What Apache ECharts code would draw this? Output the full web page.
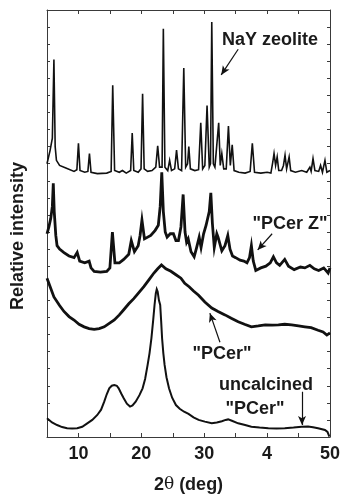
<!DOCTYPE html>
<html>
<head>
<meta charset="utf-8">
<script src="https://cdn.jsdelivr.net/npm/echarts@6/dist/echarts.min.js"></script>
<style>
  html, body { margin: 0; padding: 0; background: #fff; }
  #main { width: 340px; height: 496px; }
</style>
</head>
<body>
<div id="main"></div>
<script>
// 2theta (deg), stacked relative intensity (arbitrary units, offset per pattern)
const nayZeolite = [
  [5.0, 16.0], [5.5, 16.8], [5.85, 17.5], [6.1, 22.1], [6.3, 17.0], [6.5, 16.2], [7.0, 15.9],
  [8.0, 15.75], [9.3, 15.55], [9.75, 15.65], [10.0, 17.2], [10.25, 15.6], [11.0, 15.5],
  [11.5, 15.55], [11.75, 16.6], [12.0, 15.5], [13.0, 15.42], [14.5, 15.45], [15.2, 15.55],
  [15.45, 20.6], [15.75, 15.6], [16.5, 15.5], [17.0, 15.6], [17.6, 15.45], [18.3, 15.6],
  [18.55, 17.8], [18.8, 15.6], [19.5, 15.5], [19.95, 15.7], [20.2, 20.1], [20.45, 15.7],
  [21.0, 15.55], [21.7, 15.6], [22.3, 15.8], [22.6, 17.05], [22.9, 15.8], [23.3, 15.8],
  [23.5, 23.9], [23.75, 15.8], [24.2, 15.6], [24.5, 16.2], [24.8, 15.6], [25.3, 15.7],
  [25.6, 16.8], [25.9, 15.7], [26.4, 15.6], [26.75, 21.6], [27.05, 15.8], [27.35, 16.0],
  [27.55, 17.0], [27.8, 15.7], [28.5, 15.6], [29.1, 15.65], [29.45, 18.4], [29.75, 15.7],
  [30.1, 15.9], [30.45, 19.4], [30.8, 15.8], [31.0, 16.0], [31.2, 24.3], [31.45, 16.0],
  [31.7, 15.8], [32.0, 15.9], [32.3, 18.4], [32.55, 15.9], [32.8, 16.6], [33.1, 15.7],
  [33.5, 15.7], [33.85, 18.2], [34.15, 15.9], [34.45, 17.1], [34.75, 15.6], [35.5, 15.5],
  [36.5, 15.45], [37.3, 15.55], [37.65, 17.2], [38.0, 15.5], [39.0, 15.45], [40.0, 15.5],
  [40.6, 15.45], [40.9, 16.1], [41.1, 16.6], [41.35, 15.9], [41.6, 16.4], [41.85, 15.6],
  [42.3, 15.6], [42.6, 15.9], [42.85, 16.5], [43.1, 15.7], [43.5, 16.4], [43.75, 15.6],
  [44.5, 15.5], [45.5, 15.6], [46.3, 15.5], [46.8, 15.8], [47.0, 15.55], [47.3, 16.3],
  [47.6, 15.6], [48.2, 15.55], [48.5, 15.9], [48.8, 15.5], [49.2, 16.2], [49.5, 15.5], [50.0, 15.6]
];

const pcerZ = [
  [5.0, 11.9], [5.3, 12.3], [5.6, 12.8], [5.85, 13.5], [6.0, 14.85], [6.15, 13.2], [6.4, 11.8],
  [6.6, 11.2], [7.0, 11.0], [7.7, 10.8], [8.5, 10.6], [9.3, 10.5], [9.8, 10.8], [10.2, 10.3],
  [11.0, 10.2], [11.7, 10.3], [12.0, 9.9], [12.5, 9.7], [13.5, 9.65], [14.5, 9.7], [15.0, 9.9],
  [15.4, 12.0], [15.8, 10.2], [16.5, 10.2], [17.2, 10.4], [18.0, 10.7], [18.4, 11.5],
  [18.9, 10.85], [19.5, 11.2], [19.8, 11.8], [20.1, 12.7], [20.5, 11.6], [20.8, 11.5],
  [21.5, 11.8], [22.2, 12.1], [22.7, 12.4], [23.0, 13.5], [23.25, 15.5], [23.5, 13.2],
  [23.8, 12.0], [24.1, 11.7], [24.6, 11.9], [25.1, 11.9], [25.5, 11.5], [25.9, 11.5],
  [26.3, 12.3], [26.65, 14.2], [26.95, 12.0], [27.2, 11.4], [27.45, 11.6], [27.9, 10.85],
  [28.4, 10.55], [28.8, 11.1], [29.2, 11.7], [29.5, 11.1], [29.9, 11.9], [30.3, 12.4],
  [30.8, 13.2], [31.05, 14.3], [31.3, 12.5], [31.6, 11.1], [32.0, 11.9], [32.2, 11.7],
  [32.8, 10.9], [33.3, 11.2], [33.75, 11.8], [34.1, 11.0], [34.5, 10.6], [35.0, 10.5],
  [35.7, 10.35], [36.3, 10.3], [36.8, 10.2], [37.2, 10.5], [37.5, 11.2], [37.8, 10.3],
  [38.2, 9.75], [39.0, 9.9], [39.8, 10.0], [40.5, 10.2], [41.0, 10.55], [41.5, 10.2],
  [42.0, 10.05], [42.8, 10.4], [43.4, 10.0], [44.3, 9.8], [45.3, 9.95], [46.0, 9.9],
  [46.8, 10.05], [47.5, 9.85], [48.2, 9.75], [49.0, 9.9], [49.7, 9.6], [50.0, 9.9]
];

const pcer = [
  [5.0, 9.3], [5.5, 8.8], [6.1, 8.2], [7.0, 7.7], [7.7, 7.35], [8.5, 7.05], [9.3, 6.85],
  [10.1, 6.6], [10.9, 6.45], [11.7, 6.35], [12.5, 6.3], [13.3, 6.35], [14.1, 6.45],
  [14.9, 6.65], [15.7, 6.85], [16.5, 7.15], [17.2, 7.45], [18.0, 7.8], [18.8, 8.1],
  [19.6, 8.45], [20.4, 8.8], [21.2, 9.2], [22.0, 9.6], [22.6, 9.85], [23.2, 10.07],
  [23.9, 9.85], [24.7, 9.7], [25.5, 9.5], [26.3, 9.3], [26.9, 9.0], [27.6, 8.8], [28.3, 8.55],
  [29.1, 8.3], [30.1, 7.9], [31.2, 7.55], [32.2, 7.35], [33.3, 7.15], [34.3, 6.95],
  [35.4, 6.75], [36.4, 6.6], [37.5, 6.45], [38.6, 6.5], [39.7, 6.56], [40.8, 6.55],
  [41.8, 6.56], [42.8, 6.6], [43.9, 6.56], [45.0, 6.5], [46.0, 6.45], [47.0, 6.4],
  [48.1, 6.25], [48.9, 6.15], [49.5, 5.97], [50.0, 6.1]
];

const uncalcinedPcer = [
  [5.0, 1.1], [5.8, 0.85], [6.6, 0.7], [7.4, 0.58], [8.2, 0.51], [9.0, 0.5], [9.8, 0.51],
  [10.6, 0.6], [11.4, 0.8], [12.2, 1.0], [13.0, 1.29], [13.6, 1.6], [14.1, 2.07], [14.5, 2.5],
  [14.9, 2.85], [15.3, 3.0], [15.7, 3.04], [16.1, 3.0], [16.4, 2.85], [16.8, 2.55],
  [17.2, 2.27], [17.7, 1.95], [18.2, 1.78], [18.6, 1.85], [19.1, 2.07], [19.7, 2.45],
  [20.2, 2.85], [20.6, 3.4], [21.0, 4.22], [21.3, 4.9], [21.6, 5.78], [21.9, 6.9],
  [22.1, 7.73], [22.3, 8.4], [22.45, 8.65], [22.6, 8.5], [22.8, 8.0], [23.0, 7.73],
  [23.15, 6.8], [23.3, 5.78], [23.5, 4.9], [23.7, 4.22], [24.0, 3.5], [24.4, 2.85],
  [24.9, 2.3], [25.5, 1.87], [26.1, 1.65], [26.8, 1.48], [27.5, 1.35], [28.3, 1.15],
  [29.1, 1.0], [30.1, 0.9], [31.2, 0.8], [32.0, 0.85], [32.8, 0.92], [33.4, 1.0],
  [33.8, 1.03], [34.4, 0.95], [35.4, 0.8], [36.5, 0.7], [37.5, 0.6], [38.8, 0.55],
  [40.2, 0.51], [41.5, 0.5], [42.8, 0.51], [44.2, 0.55], [45.5, 0.6], [46.5, 0.62],
  [47.3, 0.57], [48.1, 0.51], [49.2, 0.41], [49.6, 0.3], [49.9, 0.02]
];

// arrows from label to curve: [from, to] in data coords
const arrows = [
  [[35.4, 22.7], [32.7, 21.2]],
  [[40.8, 11.9], [38.5, 10.95]],
  [[32.5, 5.55], [30.9, 7.25]],
  [[45.55, 2.65], [45.55, 0.7]]
];

const xTickLabels = { 10: '10', 20: '20', 30: '30', 40: '4', 50: '50' };

const font = '"Liberation Sans", Arial, sans-serif';
const ink = '#111';
const textInk = '#1a1a1a';
const axisColor = '#3a3a3a';

const chart = echarts.init(document.getElementById('main'));

const axisBase = {
  type: 'value',
  axisLine: { show: true, onZero: false, lineStyle: { color: axisColor, width: 1 } },
  axisTick: { show: true, inside: true, length: 4, lineStyle: { color: axisColor } },
  splitLine: { show: false }
};

const line = (name, data, width) => ({
  name,
  type: 'line',
  data,
  showSymbol: false,
  silent: true,
  lineStyle: { color: ink, width, join: 'miter' },
  z: 3
});

const option = {
  animation: false,
  backgroundColor: '#fff',
  grid: { left: 47, right: 10, top: 10, bottom: 59, containLabel: false, outerBoundsMode: 'none' },
  xAxis: [
    {
      ...axisBase,
      position: 'bottom',
      min: 5, max: 50, interval: 5,
      axisLabel: {
        margin: 8,
        color: textInk,
        fontFamily: font,
        fontWeight: 'bold',
        fontSize: 18,
        formatter: (v) => xTickLabels[v] || ''
      },
      name: '2{t|θ} (deg)',
      nameLocation: 'middle',
      nameGap: 39,
      nameTextStyle: {
        color: textInk, fontFamily: font, fontWeight: 'bold', fontSize: 18,
        rich: { t: { fontFamily: '"DejaVu Serif", serif', fontWeight: 'normal', fontSize: 17, color: textInk } }
      }
    },
    {
      ...axisBase,
      position: 'top',
      min: 5, max: 50, interval: 5,
      axisLabel: { show: false }
    }
  ],
  yAxis: [
    {
      ...axisBase,
      position: 'left',
      min: 0, max: 25, interval: 1,
      axisTick: { ...axisBase.axisTick, length: 3 },
      axisLabel: { show: false }
    },
    {
      ...axisBase,
      position: 'right',
      min: 0, max: 25, interval: 1,
      axisTick: { ...axisBase.axisTick, length: 3 },
      axisLabel: { show: false }
    }
  ],
  series: [
    {
      ...line('NaY zeolite', nayZeolite, 1.6),
      markLine: {
        silent: true,
        symbol: ['none', 'arrow'],
        symbolSize: [6, 9],
        label: { show: false },
        lineStyle: { color: ink, width: 1.2, type: 'solid' },
        data: arrows.map(([a, b]) => [{ coord: a }, { coord: b }])
      }
    },
    line('"PCer Z"', pcerZ, 2.8),
    line('"PCer"', pcer, 2.8),
    line('uncalcined "PCer"', uncalcinedPcer, 2)
  ],
  graphic: [
    {
      type: 'text', x: 18, y: 236, rotation: Math.PI / 2,
      style: { text: 'Relative intensity', fill: textInk, font: 'bold 18px ' + font, align: 'center', verticalAlign: 'middle' }
    },
    {
      type: 'text', x: 270, y: 40,
      style: { text: 'NaY zeolite', fill: textInk, font: 'bold 18px ' + font, align: 'center', verticalAlign: 'middle' }
    },
    {
      type: 'text', x: 290, y: 224,
      style: { text: '"PCer Z"', fill: textInk, font: 'bold 18px ' + font, align: 'center', verticalAlign: 'middle' }
    },
    {
      type: 'text', x: 222, y: 354,
      style: { text: '"PCer"', fill: textInk, font: 'bold 18px ' + font, align: 'center', verticalAlign: 'middle' }
    },
    {
      type: 'text', x: 266, y: 385,
      style: { text: 'uncalcined', fill: textInk, font: 'bold 18px ' + font, align: 'center', verticalAlign: 'middle' }
    },
    {
      type: 'text', x: 255, y: 409,
      style: { text: '"PCer"', fill: textInk, font: 'bold 18px ' + font, align: 'center', verticalAlign: 'middle' }
    }
  ]
};

chart.setOption(option);
</script>
</body>
</html>
